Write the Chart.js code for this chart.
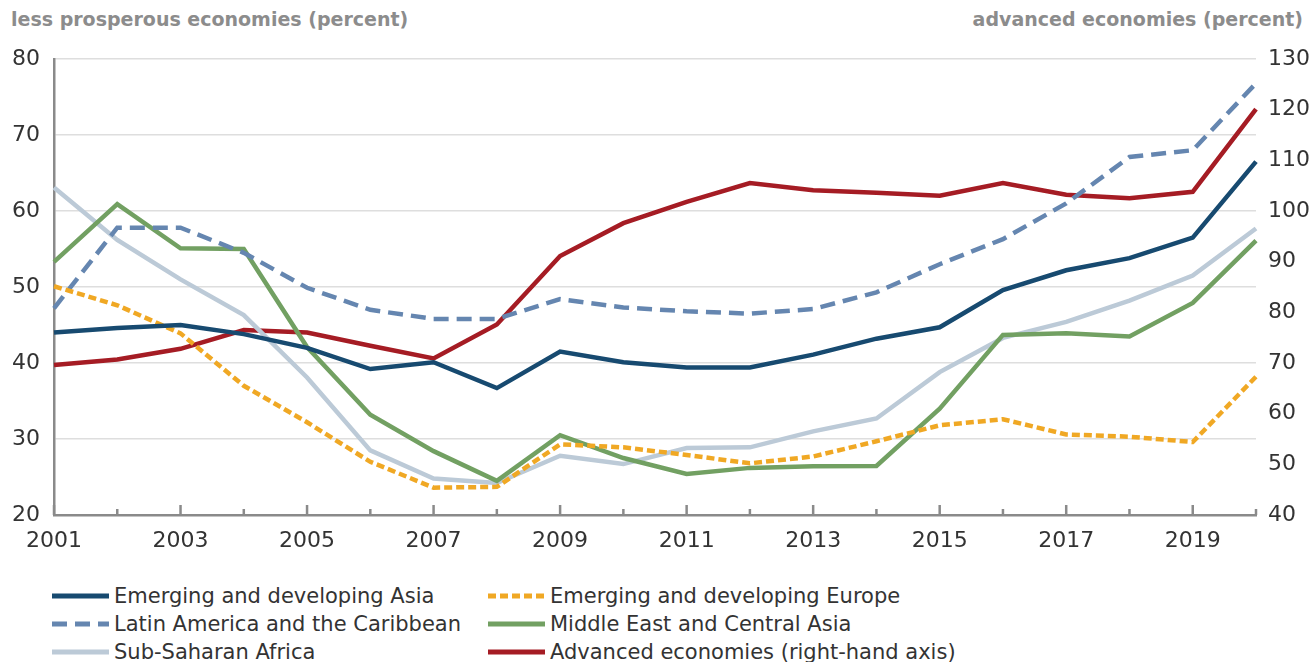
<!DOCTYPE html>
<html>
<head>
<meta charset="utf-8">
<script src="https://cdn.jsdelivr.net/npm/chart.js@4.4.1/dist/chart.umd.min.js"></script>
<style>
  html, body { margin: 0; padding: 0; background: #fff; }
  body { width: 1312px; height: 662px; position: relative; overflow: hidden; font-family: 'DejaVu Sans', sans-serif; }
  #wrap { position: absolute; left: 0; top: 0; width: 1312px; height: 560px; }
  .axis-title { position: absolute; top: 8px; font-size: 19px; font-weight: 600; color: #8c8c8c; }
  #legend { position: absolute; left: 52px; top: 582px; display: grid; grid-template-columns: 436px 700px; row-gap: 0; }
  .item { display: flex; align-items: center; height: 28px; font-size: 21px; color: #333; white-space: nowrap; }
  .item svg { margin-right: 5px; flex: none; }
</style>
</head>
<body>
<div class="axis-title" style="left:11px">less prosperous economies (percent)</div>
<div class="axis-title" style="right:9px">advanced economies (percent)</div>
<div id="wrap"><canvas id="chart"></canvas></div>
<div id="legend"></div>
<script>
// values
const years = ['2001','2002','2003','2004','2005','2006','2007','2008','2009','2010',
               '2011','2012','2013','2014','2015','2016','2017','2018','2019','2020'];

const asia     = [44.0, 44.6, 45.0, 43.8, 42.0, 39.2, 40.1, 36.7, 41.5, 40.1, 39.4, 39.4, 41.1, 43.2, 44.7, 49.6, 52.2, 53.8, 56.5, 66.5];
const europe   = [50.1, 47.6, 43.9, 37.0, 32.2, 27.0, 23.6, 23.7, 29.3, 28.9, 27.9, 26.8, 27.7, 29.7, 31.8, 32.6, 30.6, 30.3, 29.6, 38.2];
const latam    = [47.2, 57.8, 57.8, 54.5, 49.9, 47.0, 45.8, 45.8, 48.4, 47.3, 46.8, 46.5, 47.1, 49.3, 53.0, 56.3, 61.0, 67.1, 68.0, 76.8];
const mideast  = [53.3, 60.9, 55.1, 55.0, 42.1, 33.2, 28.4, 24.5, 30.5, 27.5, 25.4, 26.2, 26.4, 26.45, 34.0, 43.7, 43.9, 43.5, 47.9, 56.1];
const ssa      = [63.1, 56.2, 51.0, 46.3, 38.1, 28.5, 24.8, 24.2, 27.8, 26.7, 28.8, 28.9, 31.0, 32.7, 38.8, 43.3, 45.4, 48.2, 51.5, 57.7];
const advanced = [69.6, 70.7, 72.8, 76.5, 76.0, 73.4, 70.9, 77.6, 91.1, 97.6, 101.8, 105.5, 104.1, 103.6, 103.0, 105.5, 103.2, 102.5, 103.8, 120.1];

const leftTicks  = [20, 30, 40, 50, 60, 70, 80];
const rightTicks = [40, 50, 60, 70, 80, 90, 100, 110, 120, 130];

const FONT = "'DejaVu Sans', sans-serif";
const AXIS_GRAY = '#8a8a8a';

function series(label, data, color, dash, axis) {
  return {
    label: label,
    data: data,
    borderColor: color,
    backgroundColor: color,
    borderWidth: 4.5,
    borderDash: dash,
    pointRadius: 0,
    tension: 0,
    fill: false,
    yAxisID: axis
  };
}

// small tick marks standing up from the x axis line
const xTickMarks = {
  id: 'xTickMarks',
  afterDraw(chart) {
    const ctx = chart.ctx;
    const x = chart.scales.x;
    const bottom = chart.chartArea.bottom;
    ctx.save();
    ctx.strokeStyle = AXIS_GRAY;
    ctx.lineWidth = 2.5;
    years.forEach(function(y, i) {
      const px = x.getPixelForValue(i);
      const len = (i % 2 === 0) ? 10 : 6;
      ctx.beginPath();
      ctx.moveTo(px, bottom);
      ctx.lineTo(px, bottom - len);
      ctx.stroke();
    });
    ctx.restore();
  }
};

const chart = new Chart(document.getElementById('chart'), {
  type: 'line',
  data: {
    labels: years,
    datasets: [
      series('Emerging and developing Asia', asia, '#174a70', [], 'y'),
      series('Emerging and developing Europe', europe, '#f0a824', [8, 4], 'y'),
      series('Latin America and the Caribbean', latam, '#6586b0', [15, 8], 'y'),
      series('Middle East and Central Asia', mideast, '#72a062', [], 'y'),
      series('Sub-Saharan Africa', ssa, '#bccad7', [], 'y'),
      series('Advanced economies (right-hand axis)', advanced, '#a51c24', [], 'y1')
    ]
  },
  options: {
    responsive: true,
    maintainAspectRatio: false,
    animation: false,
    layout: { padding: { top: 59, left: 0, right: 0, bottom: 0 } },
    plugins: {
      legend: { display: false },
      tooltip: { enabled: false }
    },
    scales: {
      x: {
        offset: false,
        grid: { display: false, drawTicks: false },
        border: { display: true, color: AXIS_GRAY, width: 2.5 },
        ticks: {
          autoSkip: false,
          maxRotation: 0,
          padding: 13,
          color: '#333',
          font: { family: FONT, size: 22 },
          callback: function(v, i) { return i % 2 === 0 ? years[i] : ''; }
        },
        afterFit: function(s) { s.height = 45; }
      },
      y: {
        position: 'left',
        min: 20, max: 80,
        afterBuildTicks: function(s) { s.ticks = leftTicks.map(v => ({ value: v })); },
        grid: { color: '#dedede', lineWidth: 1.5, drawTicks: false },
        border: { display: true, color: AXIS_GRAY, width: 2.5 },
        ticks: { padding: 14, color: '#333', font: { family: FONT, size: 22 } },
        afterFit: function(s) { s.width = 54; }
      },
      y1: {
        position: 'right',
        min: 40, max: 130,
        afterBuildTicks: function(s) { s.ticks = rightTicks.map(v => ({ value: v })); },
        grid: { display: false, drawTicks: false },
        border: { display: false },
        ticks: { padding: 12, color: '#333', font: { family: FONT, size: 22 } },
        afterFit: function(s) { s.width = 56; }
      }
    }
  },
  plugins: [xTickMarks]
});

// legend in two columns, built from the datasets
const legend = document.getElementById('legend');
chart.data.datasets.forEach(function(ds) {
  const item = document.createElement('div');
  item.className = 'item';
  const dash = ds.borderDash.length ? ds.borderDash.join(' ') : 'none';
  item.innerHTML =
    '<svg width="57" height="10"><line x1="0" y1="5" x2="57" y2="5" stroke="' + ds.borderColor +
    '" stroke-width="5" stroke-dasharray="' + dash + '"/></svg><span>' + ds.label + '</span>';
  legend.appendChild(item);
});
</script>
</body>
</html>
